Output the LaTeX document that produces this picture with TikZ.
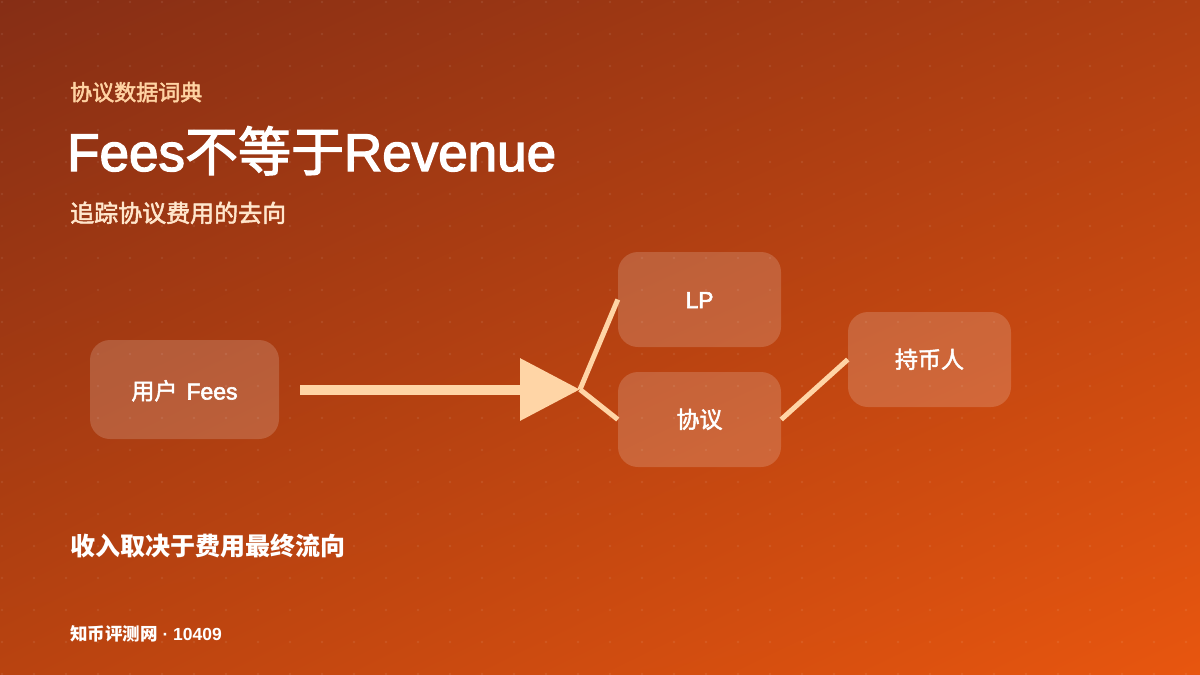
\documentclass[tikz,border=0pt]{standalone}
\usepackage{fontspec}
\setmainfont{Liberation Sans}
\newfontfamily\cjk{Noto Sans CJK SC}
\newfontfamily\latm{Liberation Sans}[FakeBold=2.5]
\newfontfamily\cjkm{Noto Sans CJK SC}[FakeBold=2.2]
\usetikzlibrary{arrows.meta,shadings}
\definecolor{bgTL}{HTML}{862E15}
\definecolor{bgTR}{HTML}{B03F12}
\definecolor{bgBL}{HTML}{B94310}
\definecolor{bgBR}{HTML}{E8560F}
\definecolor{peach}{HTML}{FFD3A3}
\definecolor{cream}{HTML}{FFE6CC}
\definecolor{flowc}{HTML}{FFD5A6}
\tikzset{
  box/.style={rounded corners=20pt, fill=white, fill opacity=0.17, text opacity=1,
    text=white, inner sep=0pt, font=\latm\fontsize{23}{27}\selectfont,
    text height=17pt, text depth=0pt},
  flow/.style={draw=flowc, line cap=butt},
  txt/.style={anchor=base west, inner sep=0pt}
}
\begin{document}
\begin{tikzpicture}[x=1pt,y=-1pt]
\useasboundingbox (0,0) rectangle (1200,675);
\shade[upper left=bgTL, upper right=bgTR, lower left=bgBL, lower right=bgBR] (0,0) rectangle (1200,675);
\begin{scope}[fill=white, fill opacity=0.08]
\foreach \i in {0,...,37}{\foreach \j in {0,...,21}{\fill (2+32*\i,2+32*\j) circle (1.3);}}
\end{scope}
% text
\node[txt, text=peach, font=\cjkm\fontsize{22}{26}\selectfont] (kicker) at (70,100.5) {协议数据词典};
\node[txt, text=white, font=\latm\fontsize{53}{60}\selectfont] (title) at (67,171) {Fees{\cjkm 不等于}Revenue};
\node[txt, text=cream, font=\cjkm\fontsize{24}{28}\selectfont] (subtitle) at (70,222) {追踪协议费用的去向};
\node[txt, text=white, font=\cjk\bfseries\fontsize{25}{30}\selectfont] (summary) at (70,555) {收入取决于费用最终流向};
\node[txt, text=white, font=\bfseries\fontsize{17.5}{20}\selectfont] (footer) at (70,640) {{\cjk 知币评测网}\ ·\ 10409};
% boxes
\node[box, minimum width=189pt, minimum height=99pt] (user) at (184.5,389.5) {\raisebox{-1.5pt}{{\cjkm 用户}\hspace{9pt}Fees}};
\node[box, minimum width=163pt, minimum height=95pt] (lp) at (699.5,299.5) {LP};
\node[box, minimum width=163pt, minimum height=95pt] (proto) at (699.5,419.5) {{\cjkm 协议}};
\node[box, minimum width=163pt, minimum height=95pt] (holder) at (929.5,359.5) {{\cjkm 持币人}};
\coordinate (fork) at (580,389.5);
% connectors
\draw[flow, line width=10pt, -{Triangle[length=60pt,width=60pt,fill=flowc]}, shorten <=21pt] (user.east) -- (fork);
\draw[flow, line width=5pt] (fork) -- (lp.west);
\draw[flow, line width=5pt] (fork) -- (proto.west);
\draw[flow, line width=5pt] (proto.east) -- (holder.west);
\end{tikzpicture}
\end{document}
